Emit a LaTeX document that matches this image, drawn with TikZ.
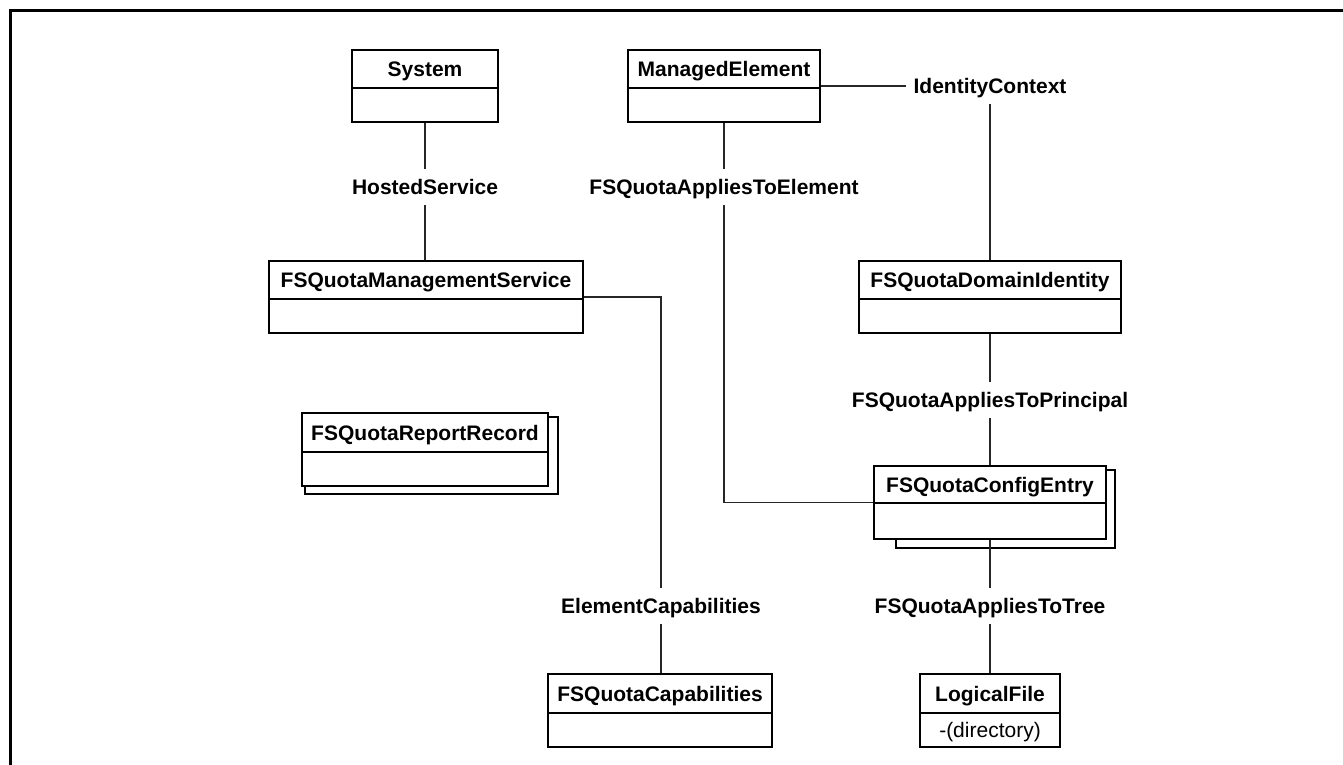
\documentclass[tikz,border=0pt]{standalone}
\usepackage{fontspec}
\setmainfont{Liberation Sans}
\usetikzlibrary{fit}
\tikzset{
  classbox/.style={draw=black, line width=2pt, fill=white, inner sep=0pt},
  shadowbox/.style={draw=black, line width=2pt, fill=white},
  divider/.style={draw=black, line width=2pt},
  titletext/.style={font=\fontsize{21}{25}\selectfont\bfseries, inner sep=0pt, text height=15pt, text depth=0pt},
  bodytext/.style={font=\fontsize{21}{25}\selectfont, inner sep=0pt, text height=15pt, text depth=0pt},
  assoclabel/.style={font=\fontsize{21}{25}\selectfont\bfseries, inner xsep=7pt, inner ysep=10.5pt, text height=15pt, text depth=0pt},
  conn/.style={draw=black!85, line width=1.4pt},
  frameline/.style={draw=black, line width=3pt, line join=miter}
}
\newcommand\umlclass[7]{%
  \node[classbox, fit={(#2,#3) (#4,#6)}] (#1) {};
  \draw[divider] (#2,#5) -- (#4,#5);
  \node[titletext] (#1-title) at ({(#2+#4)/2},{(#3+#5)/2}) {#7};
}
\begin{document}
\begin{tikzpicture}[x=1pt, y=-1pt]
\useasboundingbox (0,0) rectangle (1343,765);
\fill[white] (0,0) rectangle (1343,765);
% outer frame (only left and top edges visible)
\draw[frameline] (10,775) -- (10,11) -- (1353,11);

% classes
\umlclass{sys}{352}{50}{498}{88}{122}{System}
\umlclass{me}{628}{50}{820}{88}{122}{ManagedElement}
\umlclass{mgmt}{269}{261}{583}{299}{333}{FSQuotaManagementService}
\umlclass{dom}{859}{261}{1121}{299}{333}{FSQuotaDomainIdentity}
\draw[shadowbox] (305,417) rectangle (558,494);
\umlclass{rep}{302}{413}{548}{452}{486}{FSQuotaReportRecord}
\draw[shadowbox] (896,470) rectangle (1115,548);
\umlclass{cfg}{874}{466}{1106}{503}{539}{FSQuotaConfigEntry}
\umlclass{cap}{548}{674}{772}{713}{747}{FSQuotaCapabilities}
\umlclass{lf}{920}{674}{1060}{713}{747}{LogicalFile}
\node[bodytext] (lf-body) at (990,730) {-(directory)};

% association labels
\node[assoclabel] (hs) at (425,187) {HostedService};
\node[assoclabel] (ate) at (724,187) {FSQuotaAppliesToElement};
\node[assoclabel] (ic) at (990,86) {IdentityContext};
\node[assoclabel] (atp) at (990,400) {FSQuotaAppliesToPrincipal};
\node[assoclabel] (ec) at (661,606) {ElementCapabilities};
\node[assoclabel] (att) at (990,606) {FSQuotaAppliesToTree};

% connectors
\draw[conn] (hs.north |- sys.south) -- (hs.north);
\draw[conn] (hs.south) -- (hs.south |- mgmt.north);
\draw[conn] (me.south) -- (ate.north);
\draw[conn] (ate.south) |- (cfg.west);
\draw[conn] (me.east) -- (me.east -| ic.west);
\draw[conn] (ic.south) -- (dom.north);
\draw[conn] (dom.south) -- (atp.north);
\draw[conn] (atp.south) -- (cfg.north);
\draw[conn] (cfg.south) -- (att.north);
\draw[conn] (att.south) -- (lf.north);
\draw[conn] (mgmt.east) -| (ec.north);
\draw[conn] (ec.south) -- (ec.south |- cap.north);
\end{tikzpicture}
\end{document}
